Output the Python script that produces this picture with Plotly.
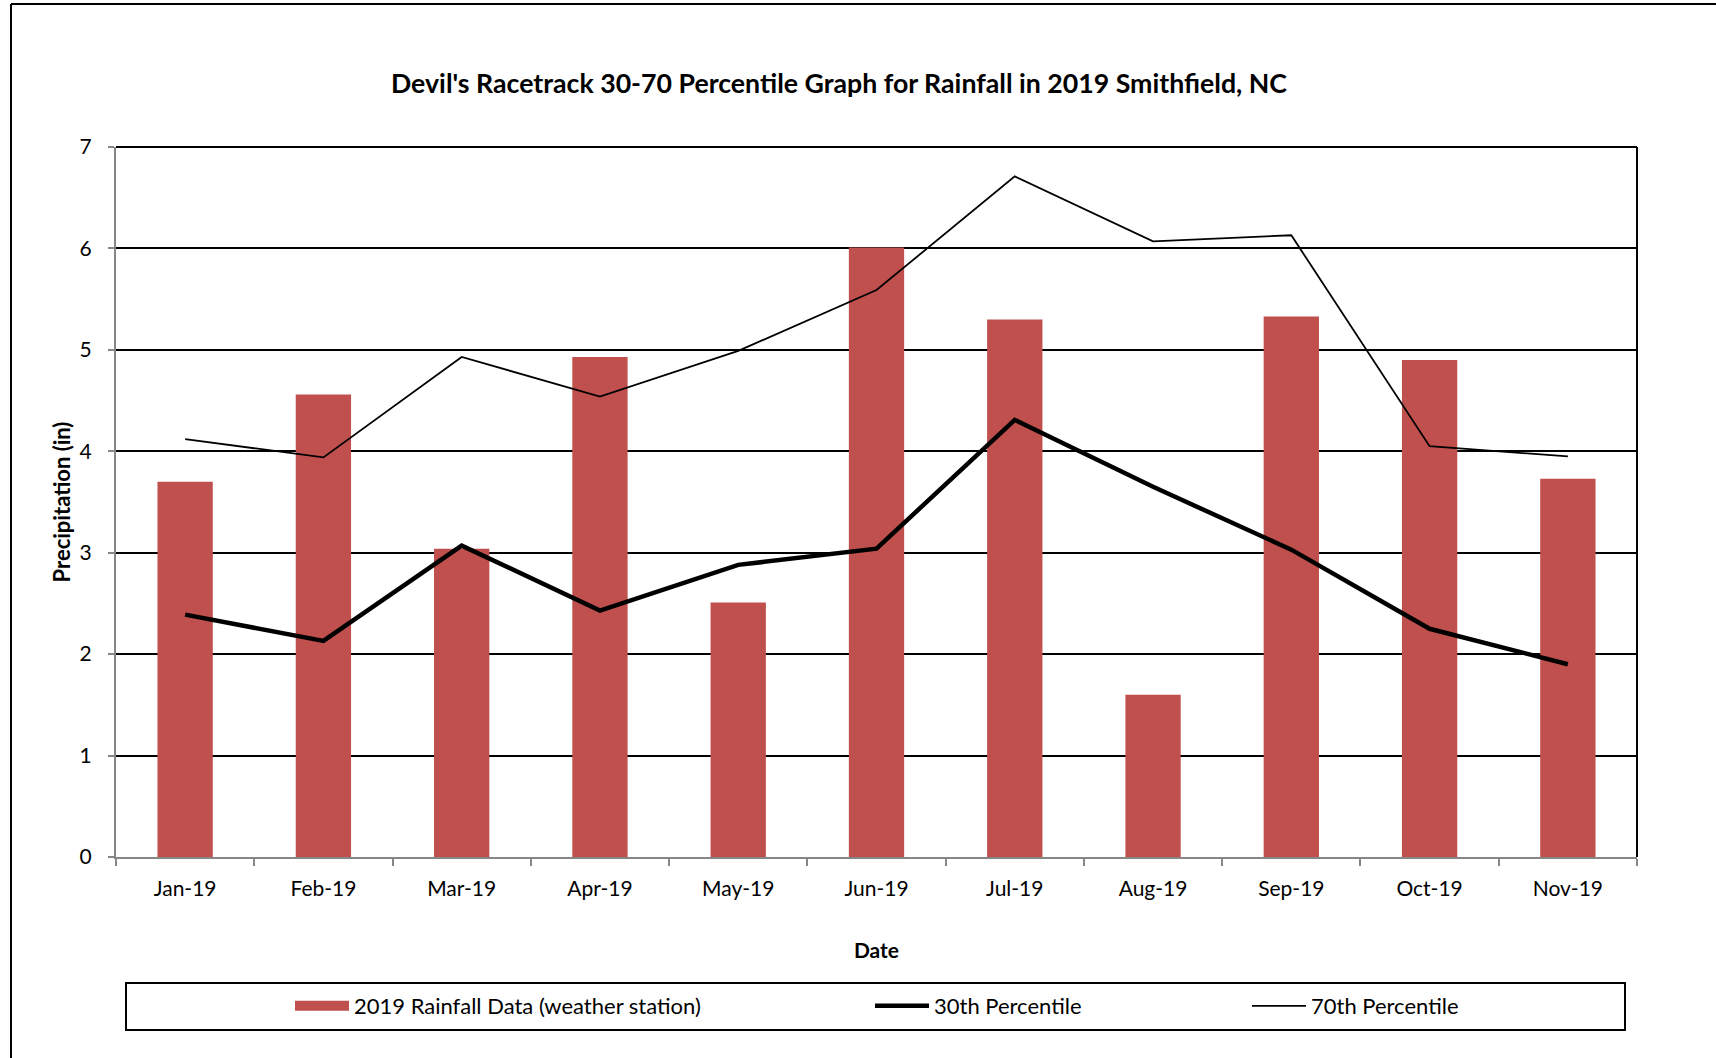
import plotly.graph_objects as go

months = ["Jan-19", "Feb-19", "Mar-19", "Apr-19", "May-19", "Jun-19",
          "Jul-19", "Aug-19", "Sep-19", "Oct-19", "Nov-19"]
rainfall = [3.70, 4.56, 3.04, 4.93, 2.51, 6.01, 5.30, 1.60, 5.33, 4.90, 3.73]
pct30 = [2.39, 2.13, 3.07, 2.43, 2.88, 3.04, 4.31, 3.65, 3.03, 2.25, 1.90]
pct70 = [4.12, 3.94, 4.93, 4.54, 4.99, 5.59, 6.71, 6.07, 6.13, 4.05, 3.95]

W, H = 1716, 1058
OFF = 0  # page body margin removed via post_script
L_px, R_px, T_px, B_px = 116, 1637, 147, 857
L, T = L_px - OFF, T_px - OFF
R = W - (R_px - OFF)
B = H - (B_px - OFF)
PW, PH = W - L - R, H - T - B
FONT = "Lato"
RED = "#C0504D"


def fx(px):
    return (px - OFF - L) / PW


def fy(py):
    return (H - B - (py - OFF)) / PH


fig = go.Figure()
fig.add_trace(go.Bar(x=months, y=rainfall, name="2019 Rainfall Data (weather station)",
                     marker=dict(color=RED, line=dict(width=0)), showlegend=False,
                     legendgroup="rain"))
# legend key for the bars (wide rectangle like the original)
fig.add_trace(go.Scatter(x=[None], y=[None], mode="lines",
                         name="2019 Rainfall Data (weather station)",
                         line=dict(color=RED, width=17), legend="legend",
                         legendgroup="rain"))
fig.add_trace(go.Scatter(x=months, y=pct30, mode="lines", name="30th Percentile",
                         line=dict(color="black", width=4.5), legend="legend2"))
fig.add_trace(go.Scatter(x=months, y=pct70, mode="lines", name="70th Percentile",
                         line=dict(color="black", width=1.8), legend="legend3"))

leg_common = dict(orientation="h", yanchor="middle", xanchor="left",
                  font=dict(family=FONT, size=22, color="black"),
                  bgcolor="rgba(0,0,0,0)", borderwidth=0, itemwidth=54)
fig.update_layout(
    width=W, height=H,
    margin=dict(l=L, r=R, t=T, b=B, autoexpand=False),
    paper_bgcolor="white", plot_bgcolor="white",
    font=dict(family=FONT, size=21, color="black"),
    title=dict(text="<b>Devil's Racetrack 30-70 Percentile Graph for Rainfall in 2019 Smithfield, NC</b>",
               xref="container", yref="container",
               x=(839 - OFF) / W, xanchor="center", y=1 - (84 - OFF) / H, yanchor="middle",
               font=dict(family=FONT, size=26.7, color="black")),
    bargap=0.6,
    showlegend=True,
    legend=dict(x=fx(290), y=fy(1006), **leg_common),
    legend2=dict(x=fx(870), y=fy(1006), **leg_common),
    legend3=dict(x=fx(1247), y=fy(1006), **leg_common),
    xaxis=dict(range=[-0.5, 10.5], showgrid=False, showline=True, linecolor="#868686",
               linewidth=2, ticks="outside", tickson="boundaries", ticklen=7,
               tickcolor="#868686", tickwidth=1.5, zeroline=False,
               ticklabelstandoff=12,
               tickfont=dict(family=FONT, size=21, color="black"),
               title=dict(text="<b>Date</b>", standoff=44,
                          font=dict(family=FONT, size=21, color="black"))),
    yaxis=dict(range=[0, 7], dtick=1, showgrid=True, gridcolor="black", gridwidth=1.6,
               showline=True, linecolor="#868686", linewidth=2, ticks="outside",
               ticklen=6, tickcolor="#868686", tickwidth=1.5, zeroline=False,
               ticklabelstandoff=12,
               tickfont=dict(family=FONT, size=21, color="black"),
               title=dict(text="<b>Precipitation (in)</b>", standoff=3,
                          font=dict(family=FONT, size=22, color="black"))),
)

shapes = [
    dict(type="line", xref="paper", yref="paper", x0=0, x1=1, y0=1, y1=1,
         line=dict(color="black", width=2)),
    dict(type="line", xref="paper", yref="paper", x0=1, x1=1, y0=0, y1=1,
         line=dict(color="black", width=2)),
    dict(type="rect", xref="paper", yref="paper", x0=fx(126), x1=fx(1625),
         y0=fy(1030), y1=fy(983), line=dict(color="black", width=2)),
    dict(type="line", xref="paper", yref="paper", x0=fx(11), x1=fx(11),
         y0=fy(H + 20), y1=fy(4), line=dict(color="black", width=2)),
    dict(type="line", xref="paper", yref="paper", x0=fx(11), x1=fx(W + 20),
         y0=fy(4), y1=fy(4), line=dict(color="black", width=2)),
]
fig.update_layout(shapes=shapes)

fig.write_html("out.html", config={"displayModeBar": False},
               post_script="document.body.style.margin='0';")
